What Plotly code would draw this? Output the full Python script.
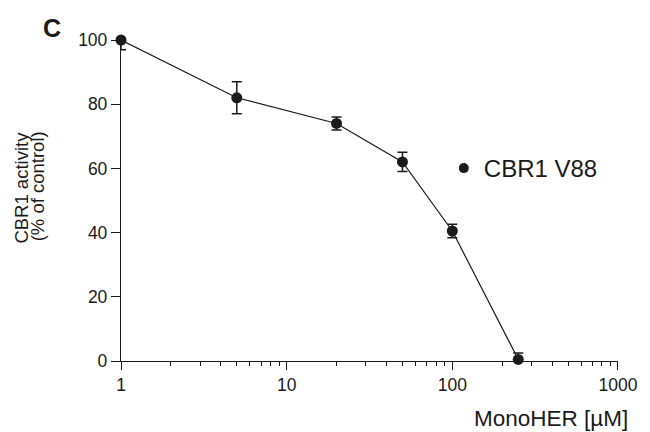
import plotly.graph_objects as go

# Data
concentration_uM = [1, 5, 20, 50, 100, 250]
activity_pct = [100, 82, 74, 62, 40.5, 0.5]
activity_err = [3, 5, 2, 3, 2.1, 2]
series_name = "CBR1 V88"
y_ticks = [0, 20, 40, 60, 80, 100]
x_ticks = [1, 10, 100, 1000]

FONT = "Liberation Sans, Arial, Helvetica, sans-serif"
INK = "#1a1a1a"

L, R, T, B = 121, 24, 40, 71
PW = 650 - L - R
PH = 432 - T - B

def px(xpix):
    return (xpix - L) / PW

def py(ypix):
    return (432 - B - ypix) / PH

fig = go.Figure()

fig.add_trace(go.Scatter(
    x=concentration_uM, y=activity_pct,
    mode="lines+markers",
    line=dict(color=INK, width=1.2),
    marker=dict(color=INK, size=11),
    error_y=dict(type="data", array=activity_err, visible=True,
                 color=INK, thickness=1.5, width=5),
    showlegend=False,
    cliponaxis=False,
))

# legend entry (marker only)
fig.add_trace(go.Scatter(
    x=[None], y=[None], mode="markers", name=series_name,
    marker=dict(color=INK, size=10),
    showlegend=True,
))

fig.update_layout(
    width=650, height=432,
    margin=dict(l=L, r=R, t=T, b=B),
    paper_bgcolor="white", plot_bgcolor="white",
    font=dict(family=FONT, color=INK, size=17.5),
    legend=dict(x=px(449), y=py(168.5), xanchor="left", yanchor="middle",
                font=dict(size=24, family=FONT, color=INK),
                bgcolor="rgba(0,0,0,0)", borderwidth=0,
                itemclick=False),
)

fig.update_xaxes(
    type="log", range=[0, 3.0001],
    tickvals=x_ticks, ticktext=[str(v) for v in x_ticks],
    ticks="outside", ticklen=8, tickwidth=1.3, tickcolor=INK,
    showline=True, linecolor=INK, linewidth=1.3,
    showgrid=False, zeroline=False,
    tickfont=dict(size=17.5, family=FONT, color=INK),
    minor=dict(ticks="outside", ticklen=4, tickwidth=1.2, tickcolor=INK,
               dtick="D1", showgrid=False),
)

fig.update_yaxes(
    range=[0, 100],
    tickvals=y_ticks,
    ticks="outside", ticklen=9, tickwidth=1.3, tickcolor=INK,
    showline=True, linecolor=INK, linewidth=1.3,
    showgrid=False, zeroline=False,
    tickfont=dict(size=17.5, family=FONT, color=INK),
)

# Panel letter
fig.add_annotation(text="<b>C</b>", xref="paper", yref="paper",
                   x=px(51), y=py(28.5), xanchor="center", yanchor="middle",
                   showarrow=False, font=dict(size=25, family=FONT, color=INK))

# Y axis title (two lines)
fig.add_annotation(text="CBR1 activity", xref="paper", yref="paper",
                   x=px(19), y=py(188),
                   xanchor="center", yanchor="middle", textangle=-90,
                   showarrow=False, font=dict(size=18.5, family=FONT, color=INK))
fig.add_annotation(text="(% of control)", xref="paper", yref="paper",
                   x=px(36), y=py(186),
                   xanchor="center", yanchor="middle", textangle=-90,
                   showarrow=False, font=dict(size=18.5, family=FONT, color=INK))

# X axis title
fig.add_annotation(text="MonoHER [µM]", xref="paper", yref="paper",
                   x=px(638), y=py(418.5),
                   xanchor="right", yanchor="middle",
                   showarrow=False, font=dict(size=22.5, family=FONT, color=INK))

fig.write_html("out.html",
               config={"displayModeBar": False},
               post_script="document.body.style.margin='0';document.body.style.padding='0';")
